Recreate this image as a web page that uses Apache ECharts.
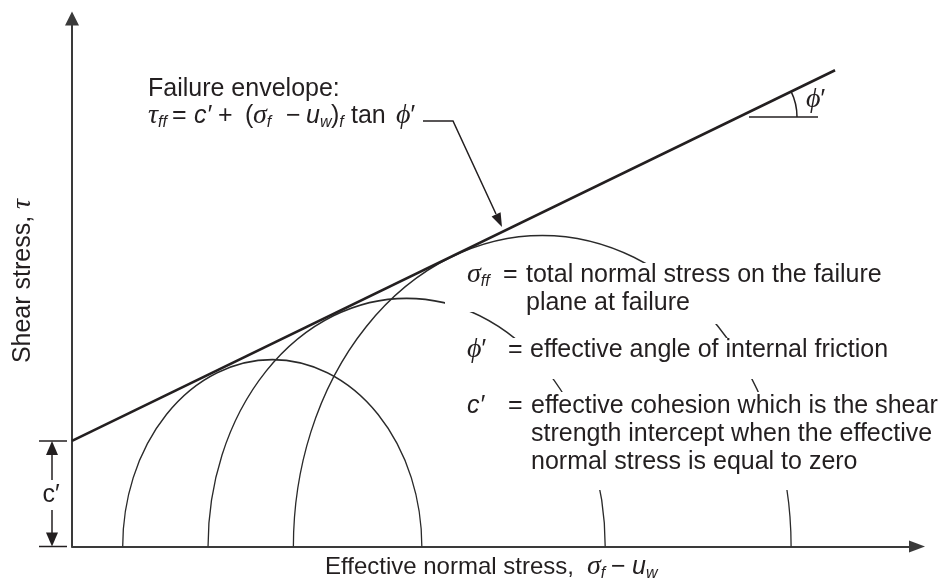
<!DOCTYPE html>
<html>
<head>
<meta charset="utf-8">
<script src="https://cdn.jsdelivr.net/npm/echarts@6/dist/echarts.min.js"></script>
<style>
  html, body { margin: 0; padding: 0; background: #fff; }
  #chart { width: 941px; height: 581px; }
</style>
</head>
<body>
<div id="chart"></div>
<script>
// Mohr circles (arbitrary stress units)
const sigma3 = [6.0, 16.1, 26.2]
const sigma1 = [41.4, 63.1, 85.1]
// failure envelope end points: c' intercept and far end
const envelopeX = [0, 90.3]
const envelopeY = [10, 45.1]
const xMax = 100
const yMax = 50

const ink = '#231f20'
const sans = 'Liberation Sans, Arial, sans-serif'
const serif = 'Liberation Serif, DejaVu Serif, serif'

const rich = {
  t: { fontSize: 25, fontFamily: sans, color: ink, lineHeight: 30 },
  b: { fontSize: 24, fontFamily: sans, color: ink, lineHeight: 30 },
  i: { fontSize: 25, fontFamily: sans, fontStyle: 'italic', color: ink, lineHeight: 30 },
  g: { fontSize: 28, fontFamily: serif, fontStyle: 'italic', color: ink, lineHeight: 30 },
  s: { fontSize: 16, fontFamily: sans, fontStyle: 'italic', color: ink, lineHeight: 16, verticalAlign: 'bottom' }
}

const label = (x, y, text, align, rotation) => ({
  type: 'text',
  x: x,
  y: y,
  z: 60,
  rotation: rotation || 0,
  style: { text: text, rich: rich, font: '25px ' + sans, fill: ink, align: align || 'left', verticalAlign: 'middle' }
})

const patch = (x, y, w, h) => ({
  type: 'rect', z: 50, shape: { x: x, y: y, width: w, height: h }, style: { fill: '#fff' }
})

const stroke = (points, w) => ({
  type: 'polyline', z: 55, shape: { points: points }, style: { stroke: ink, lineWidth: w || 1.5, fill: null }
})

const head = (points) => ({
  type: 'polygon', z: 55, shape: { points: points }, style: { fill: ink }
})

const circles = sigma3.map((s, i) => [s, sigma1[i]])
const envelope = envelopeX.map((x, i) => [x, envelopeY[i]])

const myChart = echarts.init(document.getElementById('chart'))
const option = {
  animation: false,
  grid: { left: 72, right: 24, top: 18.5, bottom: 34.5 },
  xAxis: {
    type: 'value', min: 0, max: xMax,
    axisLine: { onZero: false, symbol: ['none', 'triangle'], symbolSize: [12, 16], lineStyle: { color: '#3a3a3a', width: 2 } },
    axisTick: { show: false }, axisLabel: { show: false }, splitLine: { show: false }
  },
  yAxis: {
    type: 'value', min: 0, max: yMax,
    axisLine: { show: true, onZero: false, symbol: ['none', 'triangle'], symbolSize: [14, 14], lineStyle: { color: '#3a3a3a', width: 2 } },
    axisTick: { show: false }, axisLabel: { show: false }, splitLine: { show: false }
  },
  series: [
    {
      type: 'custom',
      z: 2,
      silent: true,
      data: circles,
      renderItem: function (params, api) {
        const s3 = api.value(0)
        const s1 = api.value(1)
        const c = api.coord([(s3 + s1) / 2, 0])
        const size = api.size([(s1 - s3) / 2, (s1 - s3) / 2])
        return {
          type: 'arc',
          shape: { cx: c[0], cy: c[1], r: size[0], startAngle: Math.PI, endAngle: 2 * Math.PI, clockwise: true },
          originX: c[0],
          originY: c[1],
          scaleY: size[1] / size[0],
          style: { stroke: '#2a2a2a', lineWidth: 1.3, fill: null }
        }
      }
    },
    {
      type: 'line',
      z: 3,
      silent: true,
      symbol: 'none',
      data: envelope,
      lineStyle: { color: ink, width: 2.6 }
    }
  ],
  graphic: [
    // white patches that break the circles behind the definitions
    patch(445, 263, 450, 49),
    patch(690, 312, 205, 12),
    patch(455, 338, 440, 41),
    patch(455, 392, 486, 98),

    label(148, 89, '{t|Failure envelope:}'),
    label(148, 116, '{g|τ}{s|ff}'),
    label(172, 116, '{t|=}'),
    label(194, 116, '{i|c′}'),
    label(218, 116, '{t|+}'),
    label(245, 116, '{t|(}'),
    label(253, 116, '{g|σ}{s|f}'),
    label(286, 116, '{t|−}'),
    label(306, 116, '{i|u}{s|w}'),
    label(331, 116, '{t|)}{s|f}'),
    label(351, 116, '{t|tan}'),
    label(396, 116, '{g|ϕ}{t|′}'),
    stroke([[423, 121], [453, 121], [496, 214]], 1.5),
    head([[502, 227], [500.6, 212.2], [491.6, 216.4]]),

    stroke([[749, 117], [818, 117]], 1.5),
    { type: 'arc', z: 55, shape: { cx: 739, cy: 117, r: 58, startAngle: -0.452, endAngle: 0, clockwise: true }, style: { stroke: ink, lineWidth: 1.5, fill: null } },
    label(806, 100, '{g|ϕ}{t|′}'),

    label(467, 275, '{g|σ}{s|ff}'),
    label(503, 275, '{t|=}'),
    label(526, 275, '{t|total normal stress on the failure}'),
    label(526, 303, '{t|plane at failure}'),
    label(467, 350, '{g|ϕ}{t|′}'),
    label(508, 350, '{t|=}'),
    label(530, 350, '{t|effective angle of internal friction}'),
    label(467, 406, '{i|c′}'),
    label(508, 406, '{t|=}'),
    label(531, 406, '{t|effective cohesion which is the shear}'),
    label(531, 434, '{t|strength intercept when the effective}'),
    label(531, 462, '{t|normal stress is equal to zero}'),

    label(325, 567, '{b|Effective normal stress,}'),
    label(587, 567, '{g|σ}{s|f}'),
    label(611, 567, '{t|−}'),
    label(632, 567, '{i|u}{s|w}'),
    label(23, 281, '{t|Shear stress, }{g|τ}', 'center', Math.PI / 2),

    stroke([[39, 441], [67, 441]], 1.5),
    stroke([[39, 546.5], [67, 546.5]], 1.5),
    stroke([[52, 454], [52, 480]], 1.5),
    stroke([[52, 510], [52, 533]], 1.5),
    head([[52, 441], [46, 455], [58, 455]]),
    head([[52, 546.5], [46, 532.5], [58, 532.5]]),
    label(51, 495, '{t|c′}', 'center')
  ]
}
myChart.setOption(option)
</script>
</body>
</html>
